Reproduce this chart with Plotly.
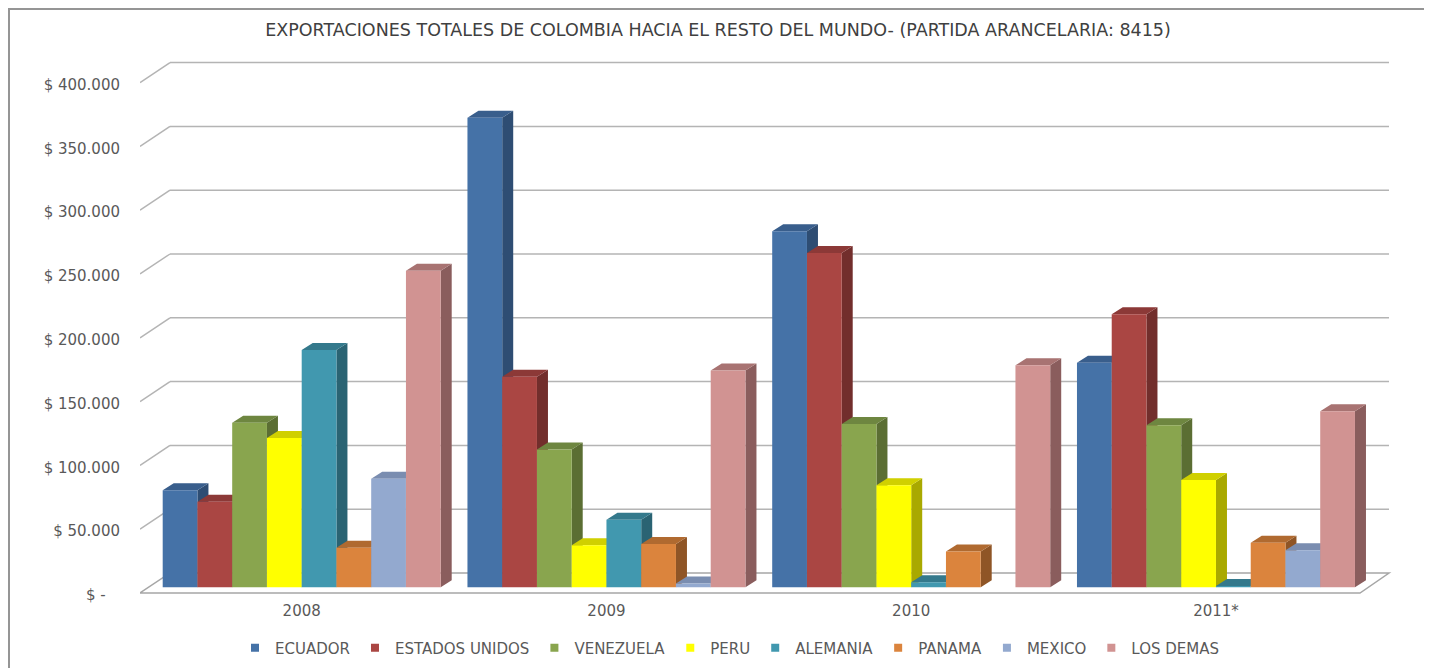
import plotly.graph_objects as go

# ---------------- data ----------------
years = ["2008", "2009", "2010", "2011*"]
series_names = ["ECUADOR", "ESTADOS UNIDOS", "VENEZUELA", "PERU",
                "ALEMANIA", "PANAMA", "MEXICO", "LOS DEMAS"]
ecuador = [76000, 368000, 279000, 176000]
estados_unidos = [67000, 165000, 262000, 214000]
venezuela = [129000, 108000, 128000, 127000]
peru = [117000, 33000, 80000, 84000]
alemania = [186000, 53000, 4000, 1000]
panama = [31000, 34000, 28000, 35000]
mexico = [85000, 3000, 0, 29000]
los_demas = [248000, 170000, 174000, 138000]
series_values = [ecuador, estados_unidos, venezuela, peru,
                 alemania, panama, mexico, los_demas]
tick_vals = [0, 50000, 100000, 150000, 200000, 250000, 300000, 350000, 400000]
tick_text = ["$ -\u00a0\u00a0\u00a0", "$ 50.000", "$ 100.000", "$ 150.000", "$ 200.000",
             "$ 250.000", "$ 300.000", "$ 350.000", "$ 400.000"]
title = "EXPORTACIONES TOTALES DE COLOMBIA HACIA EL RESTO DEL MUNDO- (PARTIDA ARANCELARIA: 8415)"

# ---------------- style ----------------
front_colors = ['#4572A7', '#AA4643', '#89A54E', '#FFFF00',
                '#4198AF', '#DB843D', '#93A9CF', '#D19392']
side_colors = ['#2E4D73', '#722E2C', '#5B6E33', '#A9A900',
               '#2A6373', '#8F5526', '#6A7A98', '#8A5D5D']
top_colors = ['#395E8C', '#8C3937', '#6E8640', '#D0D000',
              '#34798C', '#B06A30', '#7A8DB0', '#A87372']
FONT = 'DejaVu Sans, Verdana, sans-serif'

OFF = 8                     # page body margin
W, H = 1424, 660
L, T = 140 - OFF, 40 - OFF
R = W - (1395 - OFF)
B = H - (600 - OFF)
PX_BAR = 34.75              # px per bar width unit
PX_VAL = 63.8 / 50000       # px per value unit
BAR0_PX = 162.7 - OFF       # left edge of first bar (px)
BASE_PX = 587.3 - OFF       # bar base (px)
GROUP_STEP = 8.77           # group spacing in bar units

x_min = (L - BAR0_PX) / PX_BAR
x_max = (W - R - BAR0_PX) / PX_BAR
y_min = -(H - B - BASE_PX) / PX_VAL
y_max = (BASE_PX - T) / PX_VAL

SIDE_DX = 11 / PX_BAR
SIDE_DY = 7 / PX_VAL
FRONT_DY = -5.7 / PX_VAL
BACK_DY = 14.3 / PX_VAL
LABEL_DY = -2 / PX_VAL
FRONT_X = x_min
BACK_X = FRONT_X + 30 / PX_BAR
BACK_X_END = (1389 - OFF - BAR0_PX) / PX_BAR
FLOOR_FRONT_END = BACK_X_END - 29 / PX_BAR

fig = go.Figure()

# faces of 3D bars built from data
sides, tops, fronts = [], [], []
for s, vals in enumerate(series_values):
    sx, sy, tx, ty, fx, fy = [], [], [], [], [], []
    for g, v in enumerate(vals):
        if v <= 0:
            continue
        xl = g * GROUP_STEP + s
        xr = xl + 1
        fx += [xl, xr, xr, xl, xl, None]
        fy += [0, 0, v, v, 0, None]
        sx += [xr, xr + SIDE_DX, xr + SIDE_DX, xr, xr, None]
        sy += [0, SIDE_DY, v + SIDE_DY, v, 0, None]
        tx += [xl, xr, xr + SIDE_DX, xl + SIDE_DX, xl, None]
        ty += [v, v, v + SIDE_DY, v + SIDE_DY, v, None]
    sides.append(go.Scatter(x=sx, y=sy, mode='lines', fill='toself', line=dict(width=0),
                            fillcolor=side_colors[s], showlegend=False, hoverinfo='skip'))
    tops.append(go.Scatter(x=tx, y=ty, mode='lines', fill='toself', line=dict(width=0),
                           fillcolor=top_colors[s], showlegend=False, hoverinfo='skip'))
    fronts.append(go.Scatter(x=fx, y=fy, mode='lines', fill='toself', line=dict(width=0),
                             fillcolor=front_colors[s], showlegend=False,
                             name=series_names[s], hoverinfo='name'))
for tr in sides + tops + fronts:
    fig.add_trace(tr)

# legend entries
for s, name in enumerate(series_names):
    fig.add_trace(go.Scatter(x=[None], y=[None], mode='markers', name=name,
                             marker=dict(symbol='square', size=8, color=front_colors[s])))

# gridlines (front slant + back wall)
shapes = []
grid_col = '#B4B4B4'
for t in tick_vals:
    if t == 0:
        continue
    shapes.append(dict(type='line', xref='x', yref='y', layer='below',
                       x0=FRONT_X, y0=t + FRONT_DY, x1=BACK_X, y1=t + BACK_DY,
                       line=dict(color=grid_col, width=1.5)))
    shapes.append(dict(type='line', xref='x', yref='y', layer='below',
                       x0=BACK_X, y0=t + BACK_DY, x1=BACK_X_END, y1=t + BACK_DY,
                       line=dict(color=grid_col, width=1.5)))
# floor
shapes.append(dict(type='path', xref='x', yref='y', layer='below',
                   path=f"M{FRONT_X},{FRONT_DY} L{BACK_X},{BACK_DY} L{BACK_X_END},{BACK_DY} "
                        f"L{FLOOR_FRONT_END},{FRONT_DY} Z",
                   fillcolor='white', line=dict(color='#A6A6A6', width=1.5)))
# chart border
pw, ph = W - L - R, H - T - B
shapes.append(dict(type='rect', xref='paper', yref='paper', layer='below',
                   x0=(1 - L) / pw, x1=(1420 - L) / pw,
                   y0=(H - B - (H + 20)) / ph, y1=(H - B - 1) / ph,
                   line=dict(color='#959595', width=2)))

group_centers = [g * GROUP_STEP + 4 for g in range(len(years))]

fig.update_layout(
    width=W, height=H,
    margin=dict(l=L, r=R, t=T, b=B),
    paper_bgcolor='white', plot_bgcolor='rgba(0,0,0,0)',
    font=dict(family=FONT, color='#595959', size=15),
    title=dict(text=title, x=0.4986, xref='container', xanchor='center',
               y=1 - 22 / H, yref='container', yanchor='middle',
               font=dict(family=FONT, size=17.5, color='#404040')),
    xaxis=dict(range=[x_min, x_max], showgrid=False, zeroline=False, showline=False,
               tickvals=group_centers, ticktext=years, ticks='', fixedrange=True,
               tickfont=dict(size=15)),
    yaxis=dict(range=[y_min, y_max], showgrid=False, zeroline=False, showline=False,
               tickvals=[t + FRONT_DY + LABEL_DY for t in tick_vals], ticktext=tick_text,
               ticks='', ticklabelstandoff=19, fixedrange=True, tickfont=dict(size=15)),
    legend=dict(orientation='h', xref='container', yref='container',
                x=722 / W, xanchor='center', y=1 - 640 / H, yanchor='middle',
                font=dict(family=FONT, size=15, color='#595959'), itemwidth=30,
                bgcolor='rgba(0,0,0,0)'),
    shapes=shapes,
    showlegend=True,
)

fig.write_html("out.html")
